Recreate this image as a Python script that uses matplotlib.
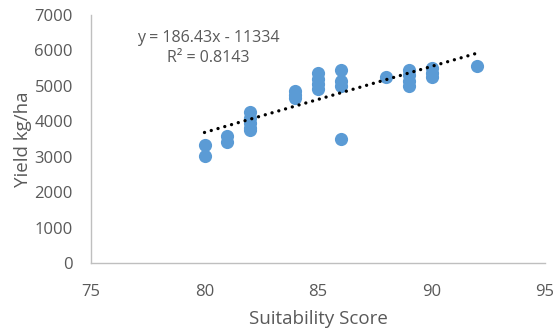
import matplotlib
matplotlib.use("Agg")
import matplotlib.pyplot as plt
import numpy as np

score = [80, 80, 81, 81, 82, 82, 82, 82, 82, 84, 84, 84, 85, 85, 85, 85,
         86, 86, 86, 86, 88, 89, 89, 89, 89, 90, 90, 90, 92]
yield_kg = [3340, 3030, 3580, 3420, 4250, 4100, 3950, 3800, 3750,
            4850, 4750, 4650, 5350, 5200, 5050, 4900,
            5450, 5150, 5000, 3500, 5260, 5450, 5300, 5150, 5000,
            5500, 5350, 5250, 5550]
trend_slope = 186.43
trend_intercept = -11230
eq_text = "y = 186.43x - 11334"
r2_text = "R² = 0.8143"

plt.rcParams['font.family'] = ['Open Sans', 'DejaVu Sans']
gray = '#595959'

fig = plt.figure(figsize=(5.54, 3.33), dpi=100)
ax = fig.add_axes([91/554, 1-263/333, (545-91)/554, (263-15)/333])

ax.scatter(score, yield_kg, s=90, color='#5B9BD5', zorder=3, linewidths=0)
xt = np.array([min(score), max(score)])
ax.plot(xt, trend_slope*xt + trend_intercept, color='black', linestyle=(0, (0.01, 2.1)),
        linewidth=2.4, zorder=4, dash_capstyle='round')

ax.set_xlim(75, 95)
ax.set_ylim(0, 7000)
ax.set_xticks(range(75, 96, 5))
ax.set_yticks(range(0, 7001, 1000))
ax.tick_params(length=0, labelsize=12, colors=gray)
ax.tick_params(axis='y', pad=13)
ax.tick_params(axis='x', pad=15)
for s in ['top', 'right']:
    ax.spines[s].set_visible(False)
for s in ['left', 'bottom']:
    ax.spines[s].set_color('#BFBFBF')
    ax.spines[s].set_linewidth(1)
ax.set_xlabel('Suitability Score', fontsize=13.5, color=gray, labelpad=7)
ax.set_ylabel('Yield kg/ha', fontsize=13.5, color=gray, labelpad=2)

fig.text(208/554, 1-38/333, eq_text, fontsize=11.5, color=gray, ha='center', va='center')
fig.text(208/554, 1-58/333, r2_text, fontsize=11.5, color=gray, ha='center', va='center')

fig.savefig('out.png', dpi=100)
